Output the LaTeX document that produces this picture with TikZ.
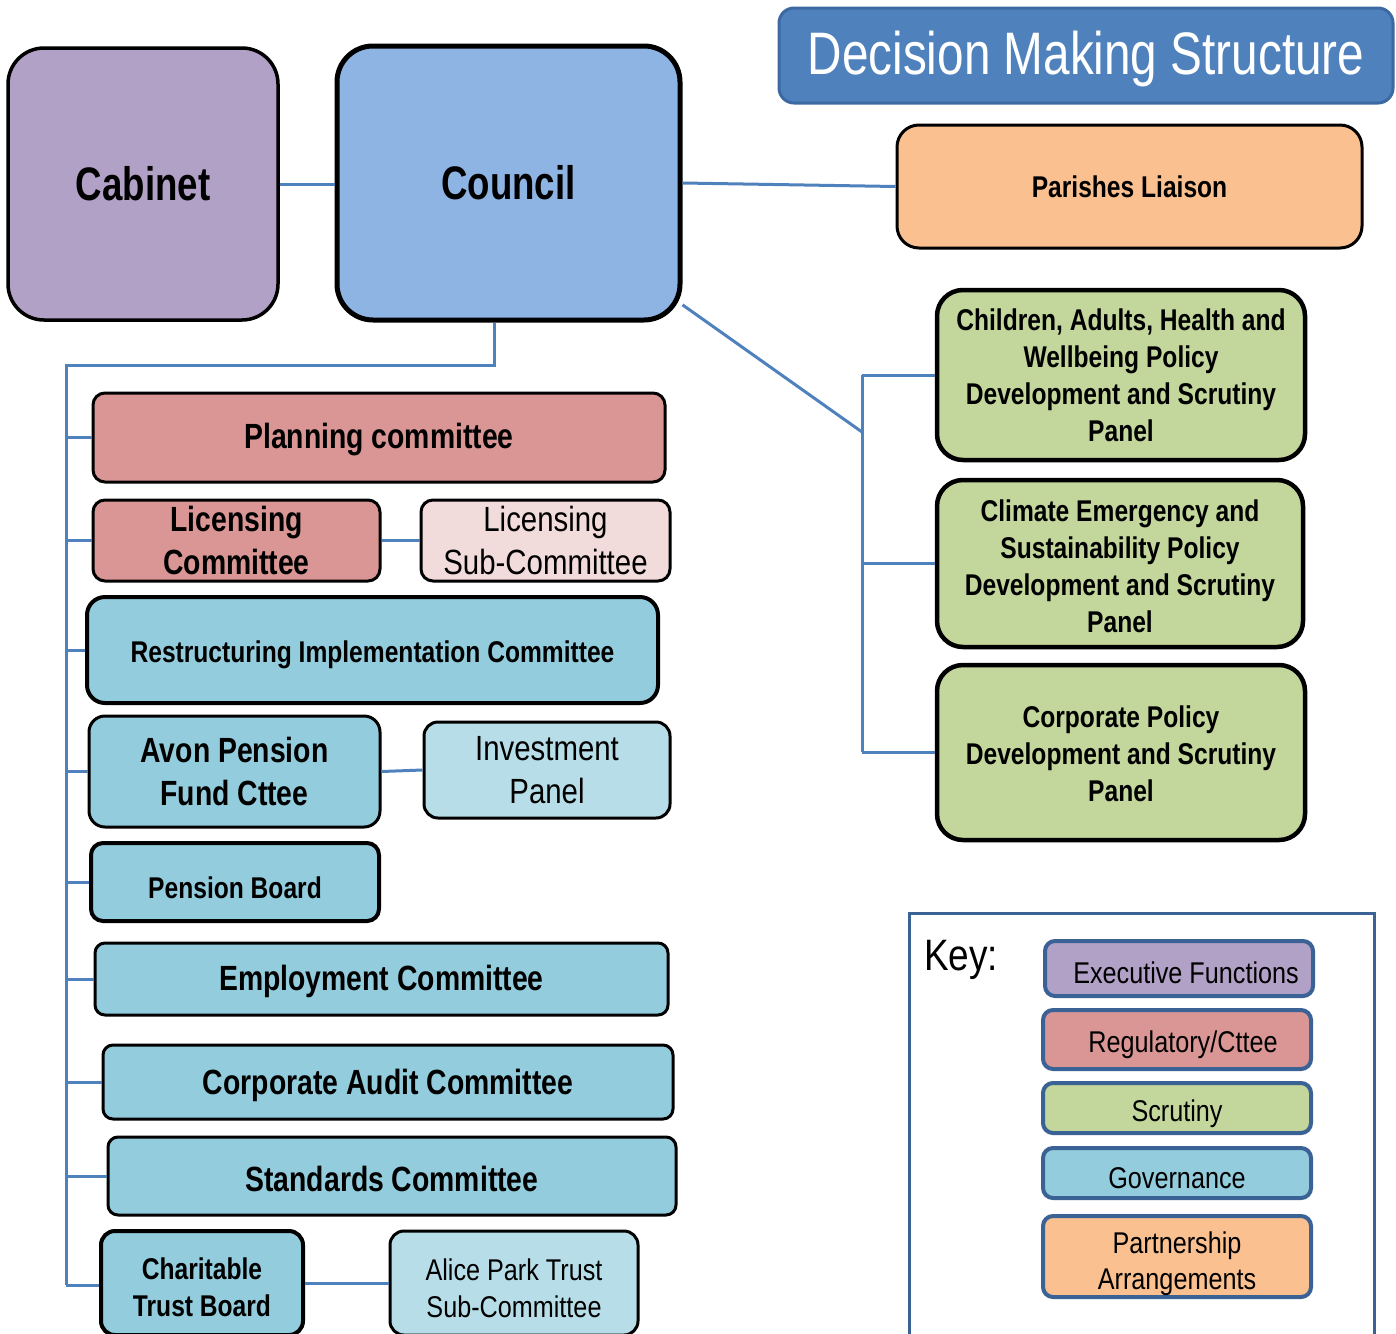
\documentclass[tikz,border=0pt]{standalone}
\usepackage{fontspec}
\setmainfont{Liberation Sans}[FakeStretch=0.78]
\definecolor{cpurple}{HTML}{B2A1C7}
\definecolor{ccouncil}{HTML}{8EB4E3}
\definecolor{ctitle}{HTML}{4F81BD}
\definecolor{ctitleb}{HTML}{3D69A3}
\definecolor{corange}{HTML}{FAC090}
\definecolor{cgreen}{HTML}{C3D69B}
\definecolor{cred}{HTML}{D99694}
\definecolor{cpink}{HTML}{F2DCDB}
\definecolor{cgov}{HTML}{93CDDD}
\definecolor{clblue}{HTML}{B7DEE8}
\definecolor{cline}{HTML}{4F81BD}
\definecolor{ckey}{HTML}{3B6294}
\newcommand\fs[2]{\fontsize{#1}{#2}\selectfont}
\newcommand\stA{\addfontfeature{FakeStretch=0.82}}
\newcommand\stB{\addfontfeature{FakeStretch=0.84}}
\newcommand\stC{\addfontfeature{FakeStretch=0.81}}
\newcommand\dn[2]{\raisebox{-#1pt}[\height][\depth]{#2}}
\newcommand\tb[1]{\begin{tabular}{@{}c@{}}#1\end{tabular}}
\tikzset{
  bx/.style={draw=black, rounded corners=#1, inner sep=0pt, align=center, text=black},
  bx/.default=14pt,
  conn/.style={draw=cline, line width=3pt},
  keybx/.style={draw=ckey, line width=4pt, rounded corners=10pt, inner sep=0pt, align=center},
  bigb/.style={font=\stC\bfseries\fs{35}{43}},
  bigr/.style={font=\stB\fs{35}{43}},
  smb/.style={font=\stA\bfseries\fs{30}{37}},
  smr/.style={font=\stB\fs{30}{37}},
}
\begin{document}
\begin{tikzpicture}[x=1pt,y=-1pt]
\useasboundingbox (0,0) rectangle (1396,1333);
% top row
\node[bx=36pt, fill=cpurple, line width=3.5pt, minimum width=270pt, minimum height=272pt, font=\bfseries\fs{47}{52}] (cabinet) at (143,184) {Cabinet};
\node[bx=36pt, fill=ccouncil, line width=5pt, minimum width=343pt, minimum height=274pt, font=\bfseries\fs{47}{52}] (council) at (508.5,183) {Council};
\node[draw=ctitleb, fill=ctitle, line width=3pt, rounded corners=15pt, minimum width=614pt, minimum height=95pt, text=white, font=\addfontfeature{FakeStretch=0.795}\fs{60}{66}, inner sep=0pt] (title) at (1086,55.5) {\dn{3}{Decision Making Structure}};
\node[bx=22pt, fill=corange, line width=3pt, minimum width=465pt, minimum height=123pt, smb] (parishes) at (1129.5,186.5) {Parishes Liaison};
% scrutiny panels
\node[bx=26pt, fill=cgreen, line width=4.5pt, minimum width=368pt, minimum height=170pt, smb] (children) at (1121,375) {Children, Adults, Health and\\Wellbeing Policy\\Development and Scrutiny\\Panel};
\node[bx=26pt, fill=cgreen, line width=4.5pt, minimum width=366pt, minimum height=167pt, smb] (climate) at (1120,563.5) {\dn{6}{\tb{Climate Emergency and\\Sustainability Policy\\Development and Scrutiny\\Panel}}};
\node[bx=26pt, fill=cgreen, line width=4.5pt, minimum width=368pt, minimum height=175pt, smb] (corppol) at (1121,752.5) {\dn{5}{\tb{Corporate Policy\\Development and Scrutiny\\Panel}}};
% left column
\node[bx=12pt, fill=cred, line width=3pt, minimum width=572pt, minimum height=89pt, bigb] (planning) at (379,437.5) {\dn{2}{Planning committee}};
\node[bx=12pt, fill=cred, line width=3pt, minimum width=287pt, minimum height=81pt, bigb] (liccom) at (236.5,540.5) {Licensing\\Committee};
\node[bx=12pt, fill=cpink, line width=3pt, minimum width=249pt, minimum height=81pt, bigr] (licsub) at (545.5,540.5) {Licensing\\Sub-Committee};
\node[bx=18pt, fill=cgov, line width=4pt, minimum width=571pt, minimum height=106pt, smb] (restr) at (372.5,650) {\dn{5}{Restructuring Implementation Committee}};
\node[bx=16pt, fill=cgov, line width=3pt, minimum width=291pt, minimum height=111pt, bigb] (avon) at (234.5,771.5) {Avon Pension\\Fund Cttee};
\node[bx=14pt, fill=clblue, line width=3pt, minimum width=246pt, minimum height=96pt, bigr] (invest) at (547,770) {\dn{3}{\tb{Investment\\Panel}}};
\node[bx=12pt, fill=cgov, line width=4pt, minimum width=288pt, minimum height=78pt, smb] (pensionb) at (235,882) {\dn{6}{Pension Board}};
\node[bx=10pt, fill=cgov, line width=3pt, minimum width=573pt, minimum height=72pt, bigb] (employ) at (381.5,979) {\dn{2}{Employment Committee}};
\node[bx=10pt, fill=cgov, line width=3pt, minimum width=570pt, minimum height=74pt, bigb] (audit) at (388,1082) {\dn{3}{Corporate Audit Committee}};
\node[bx=10pt, fill=cgov, line width=3pt, minimum width=568pt, minimum height=78pt, bigb] (standards) at (392,1176) {\dn{3}{Standards Committee}};
\node[bx=14pt, fill=cgov, line width=4pt, minimum width=202pt, minimum height=104pt, smb] (charit) at (202,1283) {\dn{8}{\tb{Charitable\\Trust Board}}};
\node[bx=14pt, fill=clblue, line width=3pt, minimum width=248pt, minimum height=104pt, smr] (alice) at (514,1283) {\dn{9}{\tb{Alice Park Trust\\Sub-Committee}}};
% key
\node[draw=ckey, line width=3pt, minimum width=465pt, minimum height=432pt, inner sep=0pt] (keybox) at (1141.5,1129) {};
\node[font=\stB\fs{44}{48}, inner sep=0pt] (keylabel) at (961,960) {Key:};
\node[keybx, fill=cpurple, minimum width=268pt, minimum height=55pt, smr] (kexec) at (1179,968.5) {\hspace*{14pt}\dn{4}{Executive Functions}};
\node[keybx, fill=cred, minimum width=268pt, minimum height=59pt, smr] (kreg) at (1177,1039.5) {\hspace*{12pt}\dn{5}{Regulatory/Cttee}};
\node[keybx, fill=cgreen, minimum width=268pt, minimum height=50pt, smr] (kscr) at (1177,1108) {\dn{6}{Scrutiny}};
\node[keybx, fill=cgov, minimum width=268pt, minimum height=50pt, smr] (kgov) at (1177,1173) {\dn{5}{Governance}};
\node[keybx, fill=corange, minimum width=268pt, minimum height=81pt, font=\stB\fs{30}{36}] (kpart) at (1177,1256.5) {\dn{8}{\tb{Partnership\\Arrangements}}};
% trunk coordinates
\coordinate (cb) at (494,365);
\coordinate (lt) at (66,365);
\coordinate (lb) at (66,1285);
\coordinate (rt) at (862,375);
\coordinate (rd) at (862,432);
\coordinate (rb) at (862,752);
% connectors
\draw[conn] (cabinet.east) -- (cabinet.east -| council.west);
\draw[conn] (council.east) -- (parishes.west);
\draw[conn] (council.south -| cb) -- (cb) -- (lt) -- (lb);
\foreach \n in {planning,liccom,restr,avon,pensionb,employ,audit,standards}{
  \draw[conn] (\n.west -| lt) -- (\n.west);
}
\draw[conn] (lb) -- (charit.west |- lb);
\draw[conn] (liccom.east) -- (licsub.west);
\draw[conn] (avon.east) -- (invest.west);
\draw[conn] (charit.east) -- (alice.west);
\draw[conn] (council.-35) -- (rd);
\draw[conn] (rt) -- (rb);
\draw[conn] (rt) -- (children.west);
\draw[conn] (climate.west -| rt) -- (climate.west);
\draw[conn] (rb) -- (corppol.west |- rb);
\end{tikzpicture}
\end{document}
